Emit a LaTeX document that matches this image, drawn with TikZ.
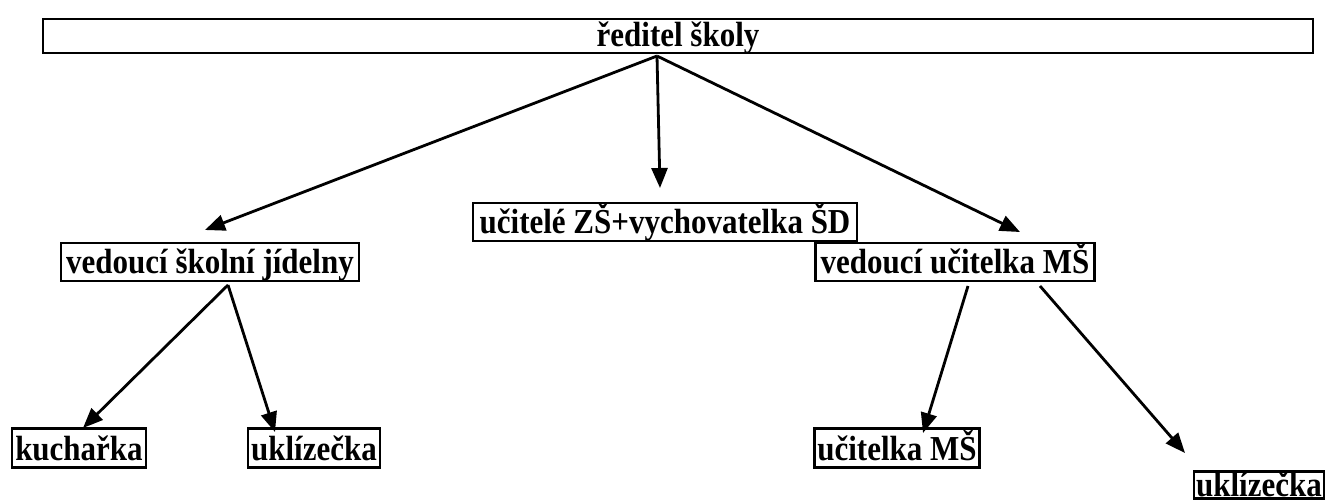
\documentclass[tikz,border=0pt]{standalone}
\usepackage{fontspec}
\usepackage{graphicx}
\setmainfont{Liberation Serif}
\usetikzlibrary{arrows.meta}
\newcommand{\tx}[2][11pt]{\smash{\raisebox{-#1}{\scalebox{1}[1.13]{#2}}}}
\begin{document}
\begin{tikzpicture}[x=1pt,y=-1pt,
  box/.style={draw,line width=2.6pt,inner sep=0pt,font=\fontsize{31}{31}\selectfont\bfseries,anchor=center},
  arr/.style={line width=2.8pt,-{Triangle[length=20pt,width=16pt]}}]
\useasboundingbox (0,0) rectangle (1327,503);
\node[box,minimum width=1270,minimum height=34] (top) at (678,36) {\tx{ředitel školy}};
\node[box,minimum width=298,minimum height=38] (vsj) at (210,262) {\tx{vedoucí školní jídelny}};
\node[box,minimum width=384,minimum height=38] (uzs) at (665,222) {\tx{učitelé ZŠ+vychovatelka ŠD}};
\node[box,minimum width=279,minimum height=38] (vum) at (955,262) {\tx{vedoucí učitelka MŠ}};
\node[box,minimum width=134,minimum height=39] (kuch) at (79,448) {\tx[12pt]{kuchařka}};
\node[box,minimum width=132,minimum height=39] (ukl1) at (314,448) {\tx[12pt]{uklízečka}};
\node[box,minimum width=165,minimum height=39] (ucm) at (897,448) {\tx[12pt]{učitelka MŠ}};
\node[box,minimum width=130,minimum height=27] (ukl2) at (1259,485) {\tx[11pt]{uklízečka}};
\coordinate (s0) at (657,56);
\coordinate (t1) at (205,230);
\coordinate (t2) at (660,188);
\coordinate (t3) at (1020,232);
\coordinate (s1) at (228,285);
\coordinate (t4) at (83,428);
\coordinate (t5) at (275,432);
\coordinate (s2) at (968,286);
\coordinate (s3) at (1040,286);
\coordinate (t6) at (923,433);
\coordinate (t7) at (1185,453);
\draw[arr] (s0) -- (t1);
\draw[arr] (s0) -- (t2);
\draw[arr] (s0) -- (t3);
\draw[arr] (s1) -- (t4);
\draw[arr] (s1) -- (t5);
\draw[arr] (s2) -- (t6);
\draw[arr] (s3) -- (t7);
\end{tikzpicture}
\end{document}
